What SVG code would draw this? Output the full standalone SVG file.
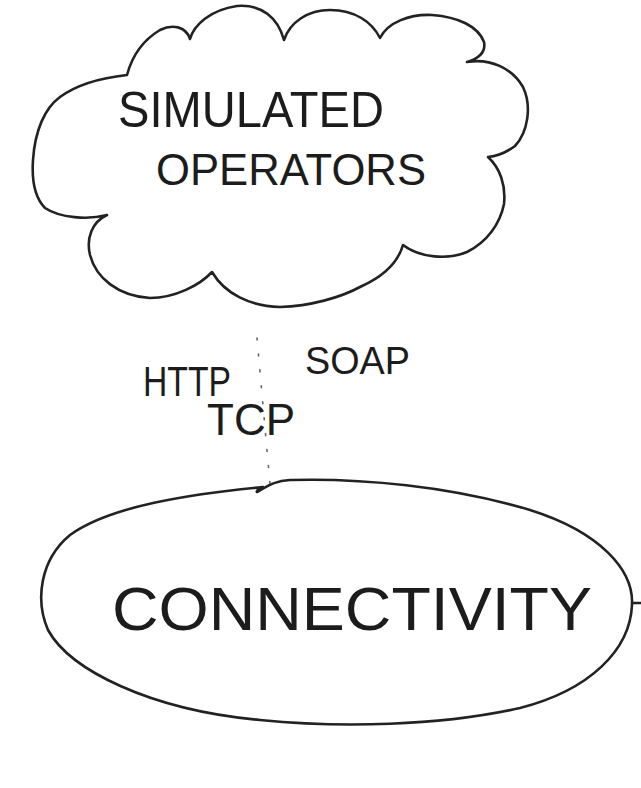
<svg xmlns="http://www.w3.org/2000/svg" width="641" height="788" viewBox="0 0 641 788">
<style>
.outline{fill:none;stroke:#222;stroke-width:2.6;stroke-linecap:round;stroke-linejoin:round}
.lbl{font-family:"Liberation Sans",Arial,sans-serif;fill:#1c1c1c}
.dots{fill:none;stroke:#666;stroke-width:1.6;stroke-dasharray:2 14;stroke-linecap:round}
</style>
<rect width="641" height="788" fill="#fff"/>
<g id="connectors">
<path class="dots" d="M257,338 L270,484"/>
<path class="outline" d="M632,603 L641,603" stroke-width="2"/>
</g>
<g id="simulated-operators">
<path class="outline" d="M127,75 C131,60 140,42 160,30 C172,24 186,26 190,39 C194,25 210,10 237,6 C262,4 278,18 284,40 C290,22 308,10 330,10 C355,10 372,22 380,38 C388,22 410,14 432,15 C458,17 478,26 484,42 C486,52 480,58 467,62 C490,58 512,68 523,87 C532,106 528,132 515,146 C507,152 498,156 488,157 C500,168 506,185 504,204 C500,224 487,242 467,252 C448,260 420,258 403,245 C398,262 384,276 362,286 C340,298 310,306 280,307 C250,306 225,294 212,272 C200,285 175,298 150,298 C118,296 96,278 90,255 C86,238 92,222 107,215 C88,220 60,218 45,208 C33,196 32,175 33,160 C35,130 45,108 60,97 C75,86 100,78 127,75 Z"/>
<text class="lbl" x="118" y="127" font-size="50" textLength="266" lengthAdjust="spacingAndGlyphs">SIMULATED</text>
<text class="lbl" x="156" y="185" font-size="45" textLength="270" lengthAdjust="spacingAndGlyphs">OPERATORS</text>
</g>
<g id="protocols">
<text class="lbl" x="143" y="396" font-size="42" textLength="88" lengthAdjust="spacingAndGlyphs">HTTP</text>
<text class="lbl" x="305" y="374" font-size="38" textLength="105" lengthAdjust="spacingAndGlyphs">SOAP</text>
<text class="lbl" x="207" y="435" font-size="44" textLength="88" lengthAdjust="spacingAndGlyphs">TCP</text>
</g>
<g id="connectivity">
<path class="outline" d="M263,487 C259,489 256,491 257,492 C268,486 274,481 290,480 C360,478 450,486 530,510 C600,532 634,570 632,605 C630,650 590,690 520,708 C440,726 340,728 260,720 C150,710 70,670 48,630 C35,600 40,560 70,535 C110,506 190,494 263,487 Z"/>
<text class="lbl" x="112" y="630" font-size="62" textLength="480" lengthAdjust="spacingAndGlyphs">CONNECTIVITY</text>
</g>
</svg>
